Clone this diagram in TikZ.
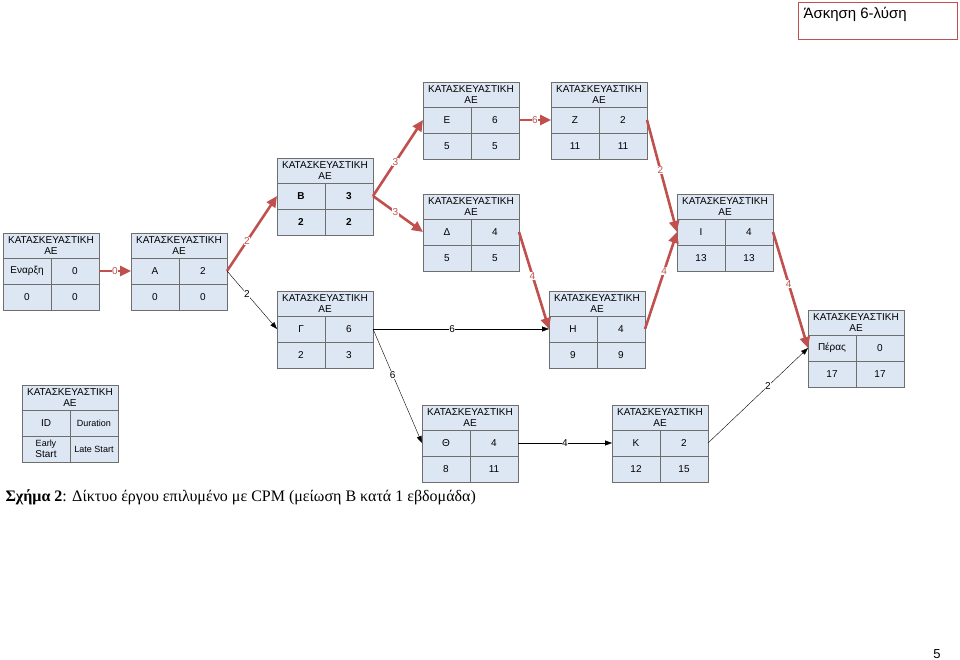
\documentclass[tikz,border=0pt]{standalone}
\usepackage{fontspec}
\setmainfont{Liberation Sans}
\newfontfamily\capfont{Liberation Serif}
\usetikzlibrary{arrows.meta}
\definecolor{critred}{RGB}{192,80,77}
\definecolor{cellfill}{RGB}{221,230,243}
\definecolor{cellline}{RGB}{110,110,110}
\tikzset{
  cell/.style={font=\fontsize{10}{11}\selectfont, inner sep=0pt, align=center},
  crit/.style={critred, line width=2.6pt, -{Triangle[length=11pt,width=10pt]}},
  slack/.style={black, line width=0.4pt, -{Triangle[length=7pt,width=5pt]}},
  lab/.style={font=\fontsize{10}{11}\selectfont, fill=white, inner sep=0.5pt}
}
% activity box: name, x, y, id, duration, early start, late start
\newcommand\actbox[7]{%
  \begin{scope}[shift={(#2,#3)}]
    \fill[cellfill] (0,0) rectangle (96,77);
    \draw[cellline] (0,0) rectangle (96,77) (0,25) -- (96,25) (0,51) -- (96,51) (48,25) -- (48,77);
    \node[cell] at (48,12.5) {ΚΑΤΑΣΚΕΥΑΣΤΙΚΗ\\ΑΕ};
    \node[cell] at (24,38) {#4};
    \node[cell] at (72,38) {#5};
    \node[cell] at (24,64) {#6};
    \node[cell] at (72,64) {#7};
    \coordinate (#1l) at (0,38);
    \coordinate (#1r) at (96,38);
  \end{scope}}

\begin{document}
\begin{tikzpicture}[x=1pt,y=-1pt]
  \useasboundingbox (0,0) rectangle (960,660);
  % title and page
  \draw[critred, line width=1pt] (798,3) rectangle (957,40);
  \node[anchor=west, font=\fontsize{15}{16}\selectfont] at (800,14) {Άσκηση 6-λύση};
  \node[font=\fontsize{13}{14}\selectfont] at (937,654) {5};
  % activities
  \actbox{S}{3}{233}{Εναρξη}{0}{0}{0}
  \actbox{A}{131}{233}{Α}{2}{0}{0}
  \actbox{B}{277}{158}{\textbf{Β}}{\textbf{3}}{\textbf{2}}{\textbf{2}}
  \actbox{G}{277}{291}{Γ}{6}{2}{3}
  \actbox{E}{423}{82}{Ε}{6}{5}{5}
  \actbox{D}{423}{194}{Δ}{4}{5}{5}
  \actbox{Z}{551}{82}{Ζ}{2}{11}{11}
  \actbox{H}{549}{291}{Η}{4}{9}{9}
  \actbox{I}{677}{194}{Ι}{4}{13}{13}
  \actbox{P}{808}{310}{Πέρας}{0}{17}{17}
  \actbox{T}{422}{405}{Θ}{4}{8}{11}
  \actbox{K}{612}{405}{Κ}{2}{12}{15}
  \actbox{L}{22}{385}{ID}{\fontsize{9}{10}\selectfont Duration}{\fontsize{9}{10}\selectfont Early\\Start}{\fontsize{9}{10}\selectfont Late Start}
  % critical path
  \draw[crit] (Sr) -- node[lab] {0} (Al);
  \draw[crit] (Ar) -- node[lab, pos=0.4] {2} (Bl);
  \draw[crit] (Br) -- node[lab, pos=0.45] {3} (El);
  \draw[crit] (Br) -- node[lab, pos=0.45] {3} (Dl);
  \draw[crit] (Er) -- node[lab] {6} (Zl);
  \draw[crit] (Zr) -- node[lab, pos=0.45] {2} (Il);
  \draw[crit] (Dr) -- node[lab, pos=0.45] {4} (Hl);
  \draw[crit] (Hr) -- node[lab, pos=0.6] {4} (Il);
  \draw[crit] (Ir) -- node[lab, pos=0.45] {4} (Pl);
  % other links
  \draw[slack] (Ar) -- node[lab, pos=0.4] {2} (Gl);
  \draw[slack] (Gr) -- node[lab, pos=0.45] {6} (Hl);
  \draw[slack] (Gr) -- node[lab, pos=0.4] {6} (Tl);
  \draw[slack] (Tr) -- node[lab] {4} (Kl);
  \draw[slack] (Kr) -- node[lab, pos=0.6] {2} (Pl);
  % caption
  \node[anchor=west, font=\capfont\fontsize{16}{17}\selectfont] at (2,497) {\textbf{Σχήμα 2}: Δίκτυο έργου επιλυμένο με CPM (μείωση Β κατά 1 εβδομάδα)};
\end{tikzpicture}
\end{document}
